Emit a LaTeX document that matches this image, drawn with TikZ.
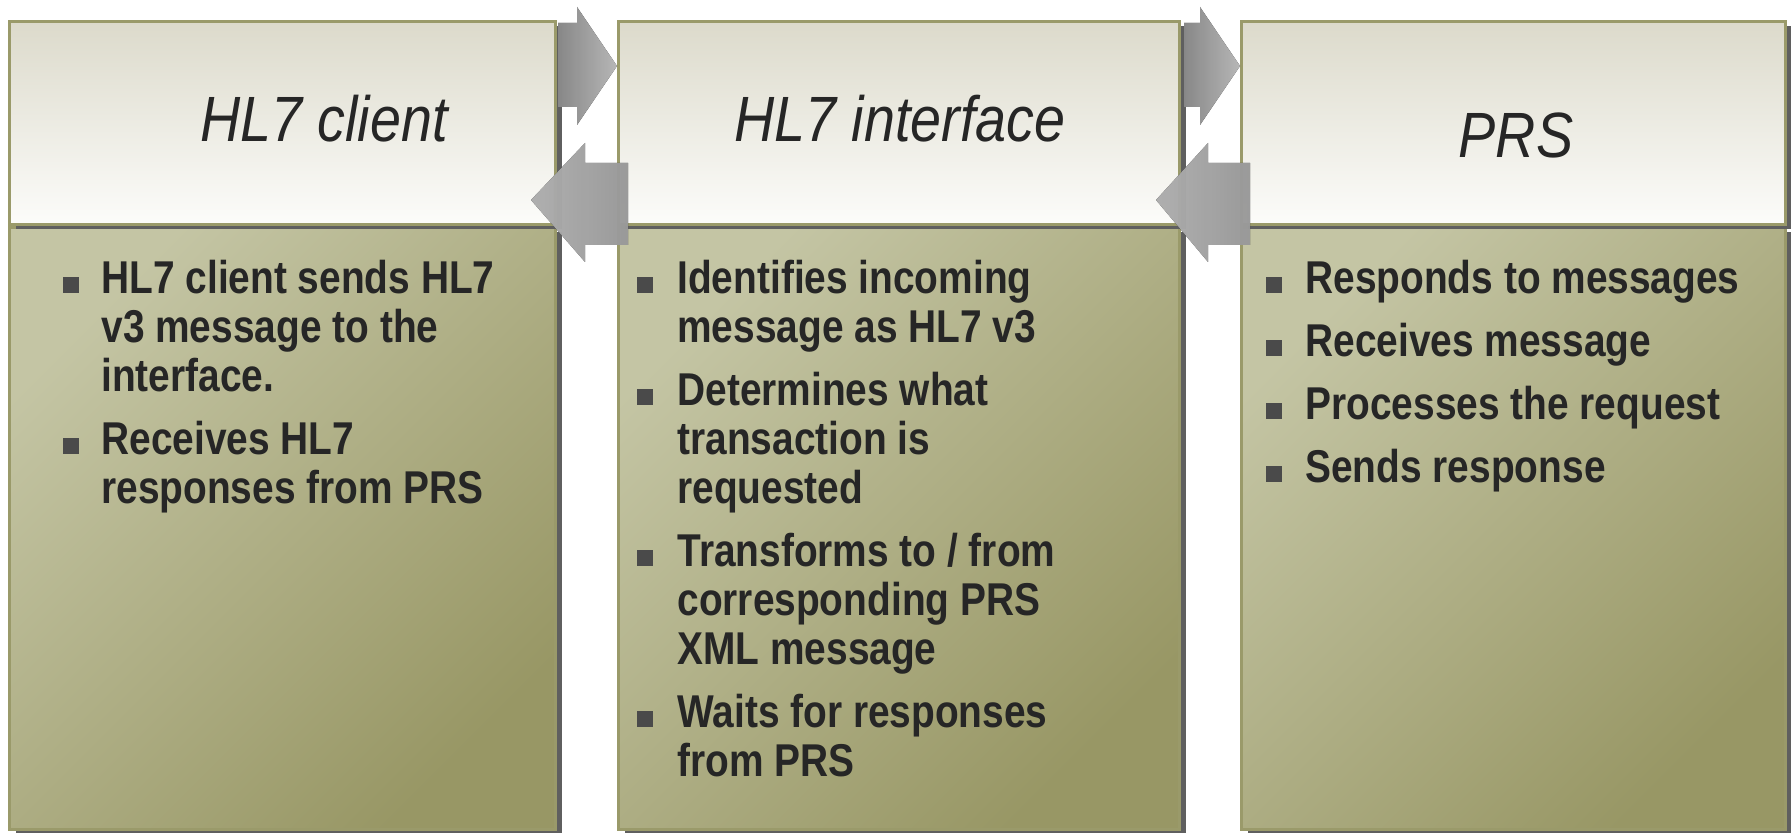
\documentclass[tikz,border=0pt]{standalone}
\usepackage{fontspec}
\setmainfont{Liberation Sans}
\newfontfamily\bodyfont[FakeStretch=0.845]{Liberation Sans}
\newfontfamily\titlefont[FakeStretch=0.87]{Liberation Sans}
\usetikzlibrary{shadows,calc}
\definecolor{hdrtop}{HTML}{DCDACB}
\definecolor{hdrbot}{HTML}{FCFCFA}
\definecolor{bodylight}{HTML}{C4C5A4}
\definecolor{bodydark}{HTML}{989765}
\definecolor{edgec}{HTML}{9A9A6A}
\definecolor{shadowc}{HTML}{5F5F5F}
\definecolor{textc}{HTML}{262626}
\definecolor{bulletc}{HTML}{4A4A4A}
\definecolor{arrowdark}{HTML}{959595}
\definecolor{arrowlight}{HTML}{C8C8C8}
\tikzset{
  boxshadow/.style={drop shadow={shadow xshift=3pt, shadow yshift=-2.5pt, fill=shadowc, opacity=1}},
  hdr/.style={boxshadow, draw=edgec, line width=1.5pt, top color=hdrtop, bottom color=hdrbot,
    anchor=north west, inner sep=0pt, minimum height=101.5pt},
  bodybox/.style={boxshadow, draw=edgec, line width=1.5pt, top color=bodylight, bottom color=bodydark,
    middle color=bodylight!50!bodydark, shading angle=45, anchor=north west, inner sep=0pt, minimum height=301pt},
  titletext/.style={font=\titlefont\itshape\fontsize{32}{38}\selectfont, text=textc, anchor=base, inner sep=0pt},
  itemtext/.style={font=\bodyfont\bfseries\fontsize{23}{24.5}\selectfont, text=textc, anchor=north west,
    inner sep=0pt, align=left, yshift=17.15pt},
  bulletsq/.style={fill=bulletc},
  rarrow/.style={left color=arrowdark, right color=arrowlight, opacity=0.9},
  larrow/.style={left color=arrowlight, right color=arrowdark!75!white, opacity=0.85},
}
\begin{document}
\begin{tikzpicture}[x=0.5pt,y=-0.5pt]
\useasboundingbox (0,0) rectangle (1791,833);
% bodies
\node[bodybox, minimum width=273pt] (bL) at (8,226) {};
\node[bodybox, minimum width=280.5pt] (bM) at (617,226) {};
\node[bodybox, minimum width=272pt] (bR) at (1240,226) {};
% headers
\node[hdr, minimum width=273pt] (hL) at (8,20) {};
\node[hdr, minimum width=280.5pt] (hM) at (617,20) {};
\node[hdr, minimum width=272pt] (hR) at (1240,20) {};
% titles
\node[titletext] (tL) at (324,142) {HL7 client};
\node[titletext] (tM) at (900,142) {HL7 interface};
\node[titletext] (tR) at (1516,158) {PRS};
% arrows between hL and hM
\fill[rarrow] ($(hL.north east)+(1,3)$) -- ($(hM.north west)+(-40,3)$) -- ($(hM.north west)+(-40,-13)$)
  -- ($(hM.north west)+(0,46)$) -- ($(hM.north west)+(-40,105)$) -- ($(hM.north west)+(-40,87)$)
  -- ($(hL.north east)+(1,87)$) -- cycle;
\fill[larrow] ($(hL.north east)+(-26,180)$) -- ($(hL.north east)+(28,123)$) -- ($(hL.north east)+(28,143)$)
  -- ($(hM.north west)+(11,143)$) -- ($(hM.north west)+(11,225)$) -- ($(hL.north east)+(28,225)$)
  -- ($(hL.north east)+(28,242)$) -- cycle;
% arrows between hM and hR
\fill[rarrow] ($(hM.north east)+(3,3)$) -- ($(hR.north west)+(-40,3)$) -- ($(hR.north west)+(-40,-13)$)
  -- ($(hR.north west)+(0,46)$) -- ($(hR.north west)+(-40,105)$) -- ($(hR.north west)+(-40,87)$)
  -- ($(hM.north east)+(3,87)$) -- cycle;
\fill[larrow] ($(hM.north east)+(-25,180)$) -- ($(hM.north east)+(27,123)$) -- ($(hM.north east)+(27,143)$)
  -- ($(hR.north west)+(10,143)$) -- ($(hR.north west)+(10,225)$) -- ($(hM.north east)+(27,225)$)
  -- ($(hM.north east)+(27,242)$) -- cycle;
% left box items
\fill[bulletsq] (63,277) rectangle (79,293);
\node[itemtext] (l1) at (101,293) {\strut HL7 client sends HL7\\v3 message to the\\interface.};
\fill[bulletsq] (63,438) rectangle (79,454);
\node[itemtext] (l2) at (101,454) {\strut Receives HL7\\responses from PRS};
% middle box items
\fill[bulletsq] (637,277) rectangle (653,293);
\node[itemtext] (m1) at (677,293) {\strut Identifies incoming\\message as HL7 v3};
\fill[bulletsq] (637,389) rectangle (653,405);
\node[itemtext] (m2) at (677,405) {\strut Determines what\\transaction is\\requested};
\fill[bulletsq] (637,550) rectangle (653,566);
\node[itemtext] (m3) at (677,566) {\strut Transforms to / from\\corresponding PRS\\XML message};
\fill[bulletsq] (637,711) rectangle (653,727);
\node[itemtext] (m4) at (677,727) {\strut Waits for responses\\from PRS};
% right box items
\fill[bulletsq] (1266,277) rectangle (1282,293);
\node[itemtext] (r1) at (1305,293) {\strut Responds to messages};
\fill[bulletsq] (1266,340) rectangle (1282,356);
\node[itemtext] (r2) at (1305,356) {\strut Receives message};
\fill[bulletsq] (1266,403) rectangle (1282,419);
\node[itemtext] (r3) at (1305,419) {\strut Processes the request};
\fill[bulletsq] (1266,466) rectangle (1282,482);
\node[itemtext] (r4) at (1305,482) {\strut Sends response};
\end{tikzpicture}
\end{document}
